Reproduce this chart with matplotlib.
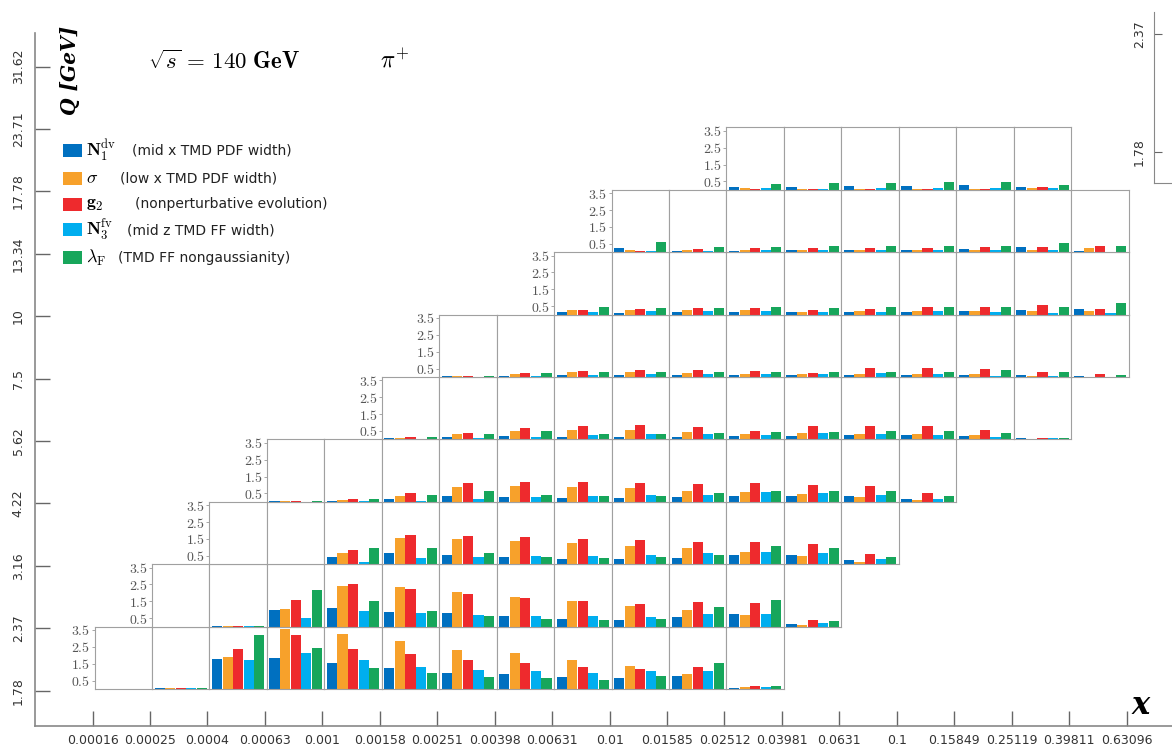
import matplotlib
matplotlib.use("Agg")
import matplotlib.pyplot as plt
from matplotlib.patches import Rectangle

plt.rcParams['mathtext.fontset'] = 'cm'

# bin edges along x and Q
x_labels = ['0.00016', '0.00025', '0.0004', '0.00063', '0.001', '0.00158', '0.00251',
            '0.00398', '0.00631', '0.01', '0.01585', '0.02512', '0.03981', '0.0631',
            '0.1', '0.15849', '0.25119', '0.39811', '0.63096']
q_labels = ['1.78', '2.37', '3.16', '4.22', '5.62', '7.5', '10', '13.34', '17.78',
            '23.71', '31.62']

param_colors = ['#0070C0', '#F7A12B', '#EE2A2D', '#00AEEF', '#17A65B']
param_symbols = [r'$\mathbf{N}_{1}^{\mathrm{dv}}$', r'$\sigma$', r'$\mathbf{g}_{2}$',
                 r'$\mathbf{N}_{3}^{\mathrm{fv}}$', r'$\lambda_{\mathrm{F}}$']
param_notes = ['(mid x TMD PDF width)', '(low x TMD PDF width)', '(nonperturbative evolution)',
               '(mid z TMD FF width)', '(TMD FF nongaussianity)']

# first x bin filled in each Q row
row_start = [0, 1, 2, 3, 5, 6, 8, 9, 11]

# impact of each parameter, one list of 5 per (x, Q) bin
q_bin0 = [[0, 0, 0, 0, 0], [0.04, 0.04, 0.04, 0.04, 0.04],
          [1.76, 1.92, 2.40, 1.70, 3.22], [1.86, 3.54, 3.20, 2.16, 2.46],
          [1.56, 3.24, 2.38, 1.70, 1.22], [1.22, 2.82, 2.06, 1.32, 0.92],
          [0.96, 2.34, 1.72, 1.10, 0.72], [0.88, 2.16, 1.56, 1.06, 0.66],
          [0.74, 1.72, 1.30, 0.94, 0.54], [0.68, 1.38, 1.16, 1.08, 0.76],
          [0.76, 0.88, 1.28, 1.04, 1.54], [0.08, 0.12, 0.18, 0.14, 0.20]]
q_bin1 = [[0, 0, 0, 0, 0], [0.02, 0.03, 0.05, 0.02, 0.05],
          [1.00, 1.06, 1.60, 0.52, 2.18], [1.08, 2.40, 2.50, 0.92, 1.54],
          [0.88, 2.36, 2.20, 0.78, 0.92], [0.78, 2.08, 1.96, 0.68, 0.60],
          [0.60, 1.78, 1.70, 0.64, 0.46], [0.48, 1.52, 1.54, 0.62, 0.42],
          [0.38, 1.20, 1.32, 0.58, 0.48], [0.54, 0.98, 1.46, 0.76, 1.18],
          [0.76, 0.68, 1.42, 0.76, 1.60], [0.16, 0.12, 0.38, 0.24, 0.34]]
q_bin2 = [[0.02, 0.02, 0.03, 0.01, 0.02], [0.02, 0.03, 0.04, 0.01, 0.03],
          [0.40, 0.68, 0.82, 0.16, 0.94], [0.66, 1.56, 1.72, 0.36, 0.96],
          [0.52, 1.52, 1.70, 0.42, 0.66], [0.40, 1.40, 1.60, 0.46, 0.40],
          [0.32, 1.24, 1.48, 0.48, 0.34], [0.32, 1.10, 1.44, 0.56, 0.42],
          [0.38, 0.94, 1.34, 0.64, 0.54], [0.54, 0.70, 1.32, 0.70, 1.08],
          [0.54, 0.48, 1.18, 0.68, 0.96], [0.22, 0.16, 0.58, 0.30, 0.42]]
q_bin3 = [[0.02, 0.03, 0.04, 0, 0.02], [0.06, 0.10, 0.14, 0.02, 0.14],
          [0.16, 0.36, 0.50, 0.06, 0.42], [0.34, 0.90, 1.12, 0.16, 0.62],
          [0.26, 0.96, 1.20, 0.26, 0.42], [0.20, 0.86, 1.16, 0.34, 0.34],
          [0.20, 0.80, 1.14, 0.42, 0.34], [0.26, 0.66, 1.08, 0.42, 0.50],
          [0.34, 0.58, 1.12, 0.56, 0.64], [0.32, 0.44, 1.02, 0.50, 0.64],
          [0.34, 0.28, 0.92, 0.42, 0.64], [0.16, 0.10, 0.50, 0.16, 0.36]]
q_bin4 = [[0.06, 0.08, 0.14, 0, 0.12], [0.12, 0.32, 0.36, 0.08, 0.32],
          [0.22, 0.48, 0.68, 0.16, 0.48], [0.16, 0.56, 0.78, 0.24, 0.34],
          [0.16, 0.56, 0.84, 0.32, 0.32], [0.16, 0.44, 0.72, 0.30, 0.38],
          [0.18, 0.32, 0.52, 0.24, 0.46], [0.22, 0.38, 0.80, 0.40, 0.44],
          [0.24, 0.32, 0.80, 0.32, 0.48], [0.28, 0.30, 0.80, 0.28, 0.52],
          [0.22, 0.24, 0.54, 0.14, 0.40], [0.06, 0.04, 0.10, 0.06, 0.08]]
q_bin5 = [[0.04, 0.06, 0.08, 0.02, 0.08], [0.08, 0.16, 0.24, 0.06, 0.24],
          [0.12, 0.30, 0.38, 0.12, 0.30], [0.10, 0.28, 0.42, 0.16, 0.28],
          [0.10, 0.26, 0.44, 0.18, 0.30], [0.10, 0.20, 0.36, 0.16, 0.30],
          [0.10, 0.16, 0.26, 0.16, 0.32], [0.14, 0.20, 0.52, 0.22, 0.32],
          [0.14, 0.18, 0.54, 0.18, 0.32], [0.14, 0.16, 0.48, 0.08, 0.40],
          [0.14, 0.06, 0.28, 0.04, 0.28], [0.06, 0.02, 0.16, 0.02, 0.14]]
q_bin6 = [[0.14, 0.26, 0.28, 0.14, 0.44], [0.12, 0.26, 0.34, 0.20, 0.38],
          [0.14, 0.26, 0.38, 0.24, 0.38], [0.16, 0.26, 0.38, 0.22, 0.44],
          [0.16, 0.18, 0.30, 0.18, 0.42], [0.16, 0.20, 0.36, 0.16, 0.44],
          [0.16, 0.20, 0.44, 0.20, 0.44], [0.20, 0.20, 0.46, 0.14, 0.48],
          [0.30, 0.22, 0.54, 0.08, 0.44], [0.36, 0.22, 0.36, 0.08, 0.68]]
q_bin7 = [[0.22, 0.16, 0.10, 0.08, 0.60], [0.10, 0.12, 0.20, 0.10, 0.32],
          [0.10, 0.14, 0.24, 0.12, 0.32], [0.14, 0.12, 0.24, 0.14, 0.36],
          [0.14, 0.12, 0.26, 0.14, 0.38], [0.16, 0.12, 0.26, 0.14, 0.38],
          [0.20, 0.14, 0.30, 0.16, 0.38], [0.30, 0.14, 0.30, 0.16, 0.52],
          [0.06, 0.26, 0.34, 0, 0.38]]
q_bin8 = [[0.14, 0.08, 0.06, 0.08, 0.32], [0.16, 0.06, 0.06, 0.06, 0.40],
          [0.20, 0.06, 0.06, 0.08, 0.42], [0.24, 0.06, 0.06, 0.08, 0.46],
          [0.26, 0.06, 0.06, 0.08, 0.46], [0.16, 0.08, 0.16, 0.08, 0.30]]
q_bins = [q_bin0, q_bin1, q_bin2, q_bin3, q_bin4, q_bin5, q_bin6, q_bin7, q_bin8]

panel_ticks = [0.5, 1.5, 2.5, 3.5]

W, H = 1172, 745
fig = plt.figure(figsize=(W / 100, H / 100), dpi=100)


def fx(px):
    return px / W


def fy(py):
    return 1 - py / H


# outer axes: bin index on both axes, edges labelled with the bin values
ax = fig.add_axes([fx(34.5), fy(725.5), 1 - fx(34.5), fy(33) - fy(725.5)])
ax.set_xlim(-1.01, 18.79)
ax.set_ylim(-0.558, 10.54)
ax.set_xticks(range(len(x_labels)))
ax.set_xticklabels(x_labels, fontsize=9, color='#333333')
ax.set_yticks(range(len(q_labels)))
ax.set_yticklabels(q_labels, fontsize=9, color='#333333', rotation=90, va='center')
ax.tick_params(axis='x', direction='in', length=11, width=1, color='#666666', pad=6)
ax.tick_params(axis='y', direction='in', length=11, width=1, color='#666666', pad=7)
for side in ['top', 'right']:
    ax.spines[side].set_visible(False)
for side in ['left', 'bottom']:
    ax.spines[side].set_color('#888888')
    ax.spines[side].set_linewidth(1.2)

for r, rows in enumerate(q_bins):
    for j, vals in enumerate(rows):
        c = row_start[r] + j
        pax = ax.inset_axes([c + 0.035, r + 0.027, 1, 1], transform=ax.transData)
        pax.bar(range(5), vals, width=0.96, color=param_colors, linewidth=0)
        pax.set_xlim(-0.72, 4.72)
        pax.set_ylim(0, 3.7)
        pax.set_xticks([])
        for s in pax.spines.values():
            s.set_color('#a0a0a0')
            s.set_linewidth(0.8)
        if j == 0:
            pax.set_yticks(panel_ticks)
            pax.set_yticklabels(['$%.1f$' % t for t in panel_ticks], fontsize=10, color='#555555')
            pax.tick_params(axis='y', length=2, width=0.6, color='#999999', pad=1)
        else:
            pax.set_yticks([])

# labels and title
fig.text(fx(70), fy(70), 'Q [GeV]', rotation=90, ha='center', va='center',
         fontsize=14.5, fontweight='bold', fontstyle='italic', family='DejaVu Serif')
fig.text(fx(148), fy(62), r'$\sqrt{s}\,=\,\mathbf{140\ GeV}$', ha='left', va='center',
         fontsize=16.5)
fig.text(fx(380), fy(60), r'$\pi^{+}$', ha='left', va='center', fontsize=17)
fig.text(fx(1141), fy(705), 'x', ha='center', va='center', fontsize=22,
         fontweight='bold', fontstyle='italic', family='DejaVu Serif')

# legend
legend_y = [150, 178, 204, 230, 258]
note_x = [132, 120, 135, 127, 118]
for i in range(5):
    fig.add_artist(Rectangle((fx(63), fy(legend_y[i] + 6.5)), fx(19), 13 / H,
                             transform=fig.transFigure, color=param_colors[i], lw=0))
    fig.text(fx(86), fy(legend_y[i]), param_symbols[i], ha='left', va='center', fontsize=13)
    fig.text(fx(note_x[i]), fy(legend_y[i]), param_notes[i], ha='left', va='center',
             fontsize=10, color='#222222')

# small axis stub on the right edge
ax2 = fig.add_axes([fx(1154), fy(183), 1 - fx(1154), fy(12) - fy(183)])
ax2.set_ylim(1.625, 2.48)
ax2.set_yticks([1.78, 2.37])
ax2.set_yticklabels(['1.78', '2.37'], fontsize=9, color='#333333', rotation=90, va='center')
ax2.tick_params(axis='y', direction='in', length=6, color='#666666', pad=6)
ax2.set_xticks([])
for side in ['top', 'right']:
    ax2.spines[side].set_visible(False)
for side in ['left', 'bottom']:
    ax2.spines[side].set_color('#888888')
ax2.patch.set_alpha(0)

fig.savefig('out.png', dpi=100)
